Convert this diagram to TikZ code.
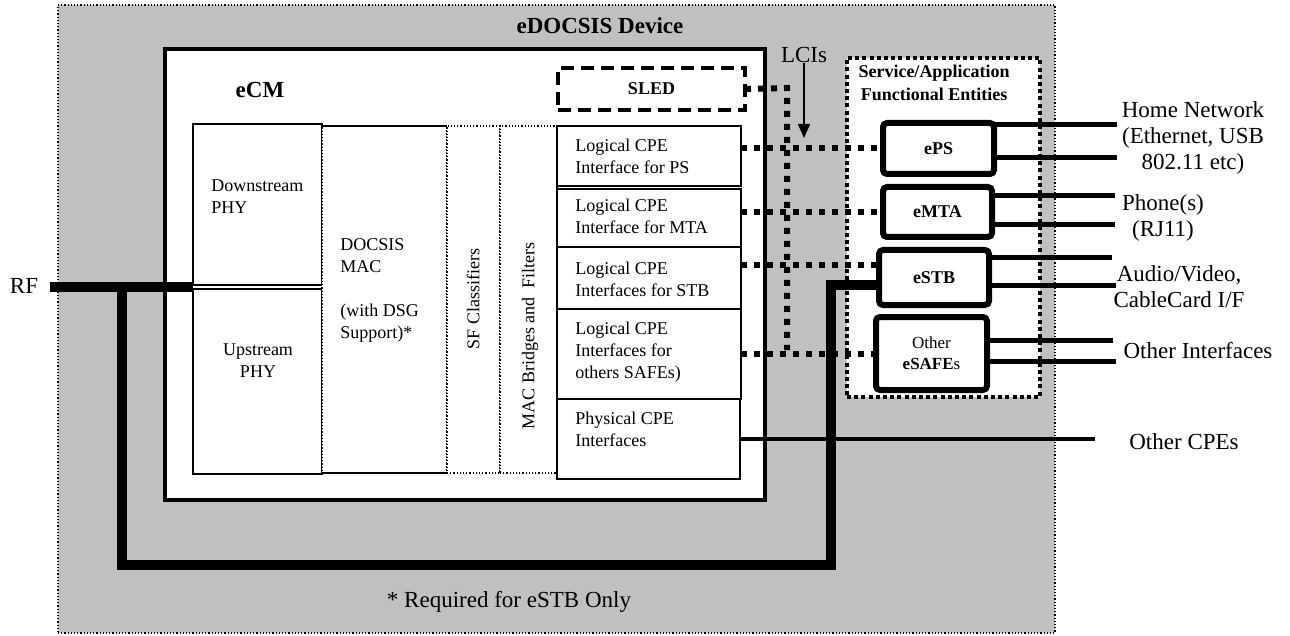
\documentclass[tikz,border=0pt]{standalone}
\usepackage{fontspec}
\setmainfont{Liberation Serif}
\usetikzlibrary{arrows.meta}
\definecolor{S}{RGB}{192, 192, 192}

\tikzset{
  box/.style={draw, line width=0.8pt, fill=white, inner sep=0pt, outer sep=0pt, anchor=north west},
  dotbox/.style={box, line width=0.6pt, densely dotted},
  safe/.style={box, line width=3pt, rounded corners=2pt, font=\fontsize{9}{11}\selectfont\bfseries, align=center},
  txt/.style={font=\fontsize{9}{11}\selectfont, inner sep=0pt, align=left},
  lbl/.style={font=\fontsize{11.5}{13}\selectfont, inner sep=0pt, align=center},
  lci/.style={line width=3pt, dash pattern=on 3pt off 3.5pt},
  ifline/.style={line width=2.5pt},
  rfline/.style={line width=5pt}
}

\begin{document}
\begin{tikzpicture}[x=0.5pt, y=-0.5pt]
  \useasboundingbox (0,0) rectangle (1290,636);
  % device and cable modem
  \node[box, fill=S, line width=0.6pt, densely dotted, minimum width=498.5pt, minimum height=314pt] (dev) at (58,5) {};
  \node[lbl, font=\fontsize{11.5}{13}\selectfont\bfseries] (devt) at (600,26) {eDOCSIS Device};
  \node[box, line width=2.2pt, minimum width=300pt, minimum height=225.5pt] (ecm) at (165,49) {};
  \node[lbl, font=\fontsize{11.5}{13}\selectfont\bfseries] (ecmt) at (260,90) {eCM};

  % eCM blocks
  \node[box, minimum width=64.5pt, minimum height=80.5pt] (ds) at (193,124) {};
  \node[box, minimum width=64.5pt, minimum height=92.5pt] (us) at (193,289) {};
  \node[dotbox, minimum width=62.5pt, minimum height=173.5pt] (mac) at (322,126) {};
  \draw[line width=0.8pt] (mac.north west) -- (mac.north east);
  \draw[line width=0.8pt] (mac.south west) -- (mac.south east);
  \node[dotbox, minimum width=26.5pt, minimum height=173.5pt] (sf) at (447,126) {};
  \node[dotbox, minimum width=28.5pt, minimum height=173.5pt] (br) at (500,126) {};
  \node[box, minimum width=92pt, minimum height=30pt] (lps) at (557,126) {};
  \node[box, minimum width=92pt, minimum height=29pt] (lmta) at (557,189) {};
  \node[box, minimum width=92pt, minimum height=31pt] (lstb) at (557,247) {};
  \node[box, minimum width=92pt, minimum height=45pt] (lsafe) at (557,309) {};
  \node[box, minimum width=91.5pt, minimum height=40pt] (phys) at (557,399) {};
  \node[box, line width=1.6pt, dash pattern=on 6.5pt off 3.5pt, minimum width=93.5pt, minimum height=21pt,
        font=\fontsize{9}{11}\selectfont\bfseries] (sled) at (558,68) {SLED};

  \node[txt, anchor=west] (dst) at (211,197) {Downstream\\PHY};
  \node[txt, align=center] (ust) at (258,361) {Upstream\\PHY};
  \node[txt, anchor=west] (mact) at (340,290) {DOCSIS\\MAC\\[11pt](with DSG\\Support)*};
  \node[txt, rotate=90] (sft) at (473,299) {SF Classifiers};
  \node[txt, rotate=90] (brt) at (530,336) {MAC Bridges and\ \ Filters};
  \node[txt, anchor=west] (pst) at (575,156) {Logical CPE\\Interface for PS};
  \node[txt, anchor=west] (mtat) at (575,216) {Logical CPE\\Interface for MTA};
  \node[txt, anchor=west] (stbt) at (575,279) {Logical CPE\\Interfaces for STB};
  \node[txt, anchor=west] (safet) at (575,352) {Logical CPE\\Interfaces for\\others SAFEs)};
  \node[txt, anchor=west] (physt) at (575,429) {Physical CPE\\Interfaces};

  % service / application entities
  \node[box, line width=2pt, dash pattern=on 2pt off 1.6pt, minimum width=96.5pt, minimum height=169.5pt] (saf) at (847,58) {};
  \node[txt, font=\fontsize{9}{11.5}\selectfont\bfseries, align=center] (saft) at (934,83) {Service/Application\\Functional Entities};
  \node[safe, minimum width=55.5pt, minimum height=25.5pt] (eps) at (883,123) {ePS};
  \node[safe, minimum width=54.5pt, minimum height=25pt] (emta) at (883,187) {eMTA};
  \node[safe, minimum width=55pt, minimum height=27.5pt] (estb) at (879,250) {eSTB};
  \node[safe, minimum width=55.5pt, minimum height=36.5pt, font=\fontsize{8.5}{10.5}\selectfont] (esafe) at (876,317) {Other\\\textbf{eSAFE}s};

  % LCIs
  \coordinate (busT) at (787,88);
  \coordinate (busB) at (787,350);
  \draw[lci] (sled.east) -- (busT) -- (busB);
  \draw[lci] (eps.west -| lps.east) -- (eps.west);
  \draw[lci] (emta.west -| lmta.east) -- (emta.west);
  \draw[lci] ([yshift=6.25pt]estb.west -| lstb.east) -- ([yshift=6.25pt]estb.west);
  \draw[lci] (esafe.west -| lsafe.east) -- (esafe.west);
  \node[lbl] (lci) at (804,55) {LCIs};
  \coordinate (lcitip) at (805,138);
  \draw[line width=0.8pt, -{Triangle[width=6pt,length=7pt]}] (lci.south) -- (lci.south |- lcitip);

  % RF
  \node[lbl] (rft) at (24,286) {RF};
  \coordinate (rf) at (50,287);
  \coordinate (rfjn) at (122,287);
  \coordinate (rfbot) at (831,565);
  \draw[rfline] (rf) -- (rf -| ds.west);
  \draw[rfline] (rfjn) |- (rfbot) |- ([yshift=-3.75pt]estb.west);

  % external interfaces
  \coordinate (hn1) at (1117,125);
  \coordinate (hn2) at (1117,158);
  \coordinate (ph1) at (1115,196);
  \coordinate (ph2) at (1115,225);
  \coordinate (av1) at (1112,258);
  \coordinate (av2) at (1116,286);
  \coordinate (oi1) at (1113,340);
  \coordinate (oi2) at (1116,361);
  \coordinate (cpe) at (1095,441);
  \draw[ifline] (hn1 -| eps.east) -- (hn1);
  \draw[ifline] (hn2 -| eps.east) -- (hn2);
  \draw[ifline] (ph1 -| emta.east) -- (ph1);
  \draw[ifline] (ph2 -| emta.east) -- (ph2);
  \draw[ifline] (av1 -| estb.east) -- (av1);
  \draw[ifline] (av2 -| estb.east) -- (av2);
  \draw[ifline] (oi1 -| esafe.east) -- (oi1);
  \draw[ifline] (oi2 -| esafe.east) -- (oi2);
  \draw[line width=1.6pt] (phys.east) -- (phys.east -| cpe);

  \node[lbl] (hnt) at (1193,138) {Home Network\\(Ethernet, USB\\802.11 etc)};
  \node[lbl] (pht) at (1163,218) {Phone(s)\\(RJ11)};
  \node[lbl] (avt) at (1179,287) {Audio/Video,\\CableCard I/F};
  \node[lbl] (oit) at (1198,351) {Other Interfaces};
  \node[lbl] (cpet) at (1184,442) {Other CPEs};
  \node[lbl] (note) at (509,602) {* Required for eSTB Only};
\end{tikzpicture}
\end{document}
